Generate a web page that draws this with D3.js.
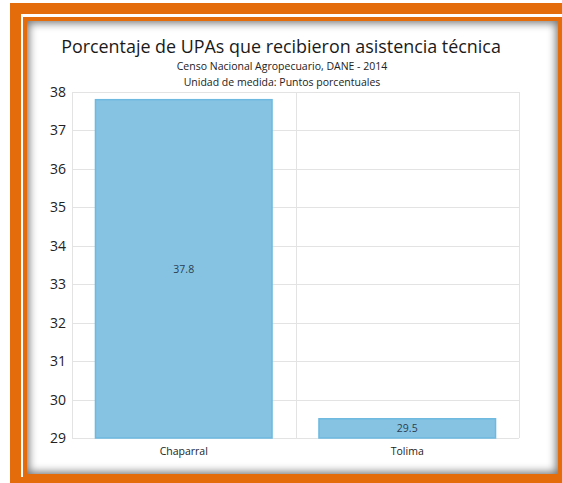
<!DOCTYPE html>
<html>
<head>
<meta charset="utf-8">
<script src="https://cdn.jsdelivr.net/npm/d3@7"></script>
<style>
  body { margin: 0; background: #fff; overflow: hidden; }
  #frame-outer { position: absolute; left: 10px; top: 3px; width: 560px; height: 490px; background: #e46c0a; }
  #frame-gap { position: absolute; left: 21px; top: 14px; width: 560px; height: 463px; background: #fff; }
  #frame-inner { position: absolute; left: 23px; top: 17px; width: 531px; height: 453px; border: 4px solid #e46c0a; background: #fff;
    box-shadow: inset 0 0 9px 2px rgba(0,0,0,0.55); }
  #chart-area { position: absolute; left: 0; top: 0; }
  text { font-family: "Open Sans", "Noto Sans", sans-serif; }
</style>
</head>
<body>
<div id="frame-outer"></div>
<div id="frame-gap"></div>
<div id="frame-inner"></div>
<div id="chart-area"></div>
<script>
const categories = ['Chaparral', 'Tolima'];
const values = [37.8, 29.5];
const yTicks = [29, 30, 31, 32, 33, 34, 35, 36, 37, 38];

const margin = {left: 72, right: 43, top: 92, bottom: 45};
const W = 562, H = 483;
const width = W - margin.left - margin.right,
    height = H - margin.top - margin.bottom;

const svg = d3.select('#chart-area')
    .append('svg')
    .attr('width', W)
    .attr('height', H);

svg.append('text')
    .text('Porcentaje de UPAs que recibieron asistencia técnica')
    .attr('x', 281)
    .attr('y', 53)
    .attr('text-anchor', 'middle')
    .attr('font-size', '17.9px')
    .attr('fill', '#1a1a1a');

svg.append('text')
    .text('Censo Nacional Agropecuario, DANE - 2014')
    .attr('x', 282)
    .attr('y', 70)
    .attr('text-anchor', 'middle')
    .attr('font-size', '10.5px')
    .attr('fill', '#222');

svg.append('text')
    .text('Unidad de medida: Puntos porcentuales')
    .attr('x', 282)
    .attr('y', 86)
    .attr('text-anchor', 'middle')
    .attr('font-size', '10.5px')
    .attr('fill', '#222');

const g = svg.append('g')
    .attr('transform', 'translate(' + margin.left + ', ' + margin.top + ')');

const xScale = d3.scaleBand()
    .domain(categories)
    .range([0, width])
    .paddingInner(0)
    .paddingOuter(0);

const yScale = d3.scaleLinear()
    .domain([29, 38])
    .range([height, 0]);

// grid
g.selectAll('.hgrid')
    .data(yTicks)
    .enter().append('line')
    .attr('x1', 0).attr('x2', width)
    .attr('y1', d => Math.round(yScale(d)) + 0.5)
    .attr('y2', d => Math.round(yScale(d)) + 0.5)
    .attr('stroke', '#e3e3e3');

const vlines = [0, xScale.bandwidth(), width];
g.selectAll('.vgrid')
    .data(vlines)
    .enter().append('line')
    .attr('x1', d => Math.round(d) + 0.5).attr('x2', d => Math.round(d) + 0.5)
    .attr('y1', 0).attr('y2', height)
    .attr('stroke', '#e3e3e3');

// y axis labels
const yAxis = d3.axisLeft(yScale).tickValues(yTicks).tickSize(0).tickPadding(6);
const yAxisGroup = g.append('g').call(yAxis);
yAxisGroup.select('.domain').remove();
yAxisGroup.selectAll('text')
    .attr('font-family', '"Open Sans", "Noto Sans", sans-serif')
    .attr('font-size', '14px')
    .attr('fill', '#222');

// x axis labels
const xAxis = d3.axisBottom(xScale).tickSize(0).tickPadding(10);
const xAxisGroup = g.append('g')
    .attr('transform', 'translate(0, ' + height + ')')
    .call(xAxis);
xAxisGroup.select('.domain').remove();
xAxisGroup.selectAll('text')
    .attr('font-family', '"Open Sans", "Noto Sans", sans-serif')
    .attr('font-size', '10.5px')
    .attr('fill', '#222');

// bars
const barPad = 0.105;
const bw = xScale.bandwidth() * (1 - 2 * barPad);
g.selectAll('.bar')
    .data(values)
    .enter().append('rect')
    .attr('x', (d, i) => xScale(categories[i]) + xScale.bandwidth() * barPad)
    .attr('y', d => yScale(d))
    .attr('width', bw)
    .attr('height', d => height - yScale(d))
    .attr('fill', '#86c3e3')
    .attr('stroke', '#6db9e0')
    .attr('stroke-width', 1.5);

g.selectAll('.lbl')
    .data(values)
    .enter().append('text')
    .text(d => d.toFixed(1))
    .attr('x', (d, i) => xScale(categories[i]) + xScale.bandwidth() / 2)
    .attr('y', d => (yScale(d) + height) / 2 + 4)
    .attr('text-anchor', 'middle')
    .attr('font-size', '10.5px')
    .attr('fill', '#2c3e50');
</script>
</body>
</html>
